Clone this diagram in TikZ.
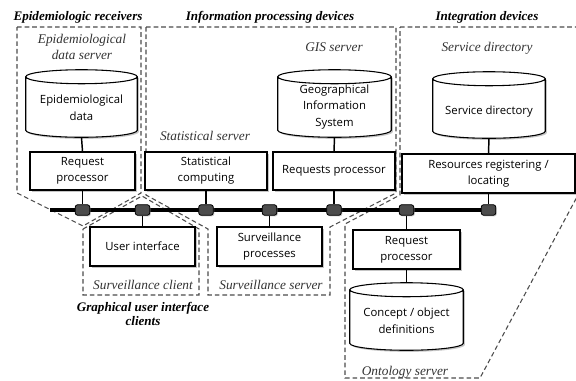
\documentclass[tikz,border=0pt]{standalone}
\usepackage{fontspec}
\setmainfont{Liberation Serif}
\newfontfamily\boxfont{Open Sans}
\usetikzlibrary{shadows,calc,backgrounds}
\tikzset{
  px/.style={x=0.75pt,y=0.75pt},
  grp/.style={draw=black!70,dashed,dash pattern=on 3.5pt off 2.2pt,line width=0.8pt},
  boxn/.style={draw=black,line width=0.8pt,fill=white,inner sep=1pt,align=center,
     font=\boxfont\fontsize{8.5}{12}\selectfont,
     drop shadow={opacity=0.45,shadow xshift=1.2pt,shadow yshift=-1.2pt}},
  dbtext/.style={inner sep=0pt,align=center,font=\boxfont\fontsize{8.5}{12.5}\selectfont},
  cylline/.style={draw=black,line width=0.8pt,fill=white,
     drop shadow={opacity=0.45,shadow xshift=1.2pt,shadow yshift=-1.2pt}},
  conn/.style={draw=black,fill=black!70,rounded corners=2pt,minimum width=11pt,
     minimum height=8pt,inner sep=0pt,line width=0.6pt,
     drop shadow={opacity=0.4,shadow xshift=0.8pt,shadow yshift=-0.8pt}},
  bus/.style={line width=2.4pt,black},
  link/.style={line width=1.1pt,black},
  ttl/.style={font=\fontsize{9.8}{11}\selectfont\bfseries\itshape,inner sep=0pt,align=center},
  lbl/.style={font=\fontsize{10}{11.5}\selectfont\itshape,text=black!80,inner sep=0pt,align=center},
}
\newcommand\dbshape[1]{%
 \draw[cylline] let \p1=(#1.north west), \p2=(#1.south east), \n1={(\x2-\x1)/2} in
   (\x1,\y1-5.25pt) -- (\x1,\y2+5.25pt)
   arc[start angle=180,end angle=360,x radius=\n1,y radius=5.25pt]
   -- (\x2,\y1-5.25pt)
   arc[start angle=0,end angle=180,x radius=\n1,y radius=5.25pt] -- cycle
   (\x1,\y1-5.25pt) arc[start angle=180,end angle=360,x radius=\n1,y radius=5.25pt];
}
\begin{document}
\begin{tikzpicture}[px]
\useasboundingbox[fill=white] (0,0) rectangle (576,-380);

% group outlines
\draw[grp] (17,-27) -- (141,-27) -- (141,-193) -- (83,-226) -- (17,-193) -- cycle;
\draw[grp] (83,-229) -- (142,-196) -- (199,-229) -- (199,-295) -- (83,-295) -- cycle;
\draw[grp] (146,-27) -- (396,-27) -- (396,-193) -- (330,-227) -- (330,-295) -- (208,-295) -- (208,-229) -- (146,-195) -- cycle;
\draw[grp] (400,-27) -- (578,-27) -- (578,-195) -- (480,-378) -- (345,-378) -- (345,-224) -- (400,-195) -- cycle;

% titles and labels
\node[ttl] (t1) at (78,-17) {Epidemiologic receivers};
\node[ttl] (t2) at (270,-17) {Information processing devices};
\node[ttl] (t3) at (487,-17) {Integration devices};
\node[ttl] (t4) at (143,-314) {Graphical user interface\\clients};
\node[lbl] (l1) at (82,-47) {Epidemiological\\data server};
\node[lbl] (l2) at (334,-47) {GIS server};
\node[lbl] (l3) at (205,-136) {Statistical server};
\node[lbl] (l4) at (487,-48) {Service directory};
\node[lbl] (l5) at (143,-285) {Surveillance client};
\node[lbl] (l6) at (271,-285) {Surveillance server};
\node[lbl] (l7) at (405,-372) {Ontology server};

% databases
\node[dbtext,minimum width=83.25pt,minimum height=50.25pt] (epidb) at (81.5,-103.5) {};
\node[dbtext,minimum width=84.75pt,minimum height=50.25pt] (gisdb) at (334.5,-103.5) {};
\node[dbtext,minimum width=84pt,minimum height=49.5pt] (servdb) at (489,-105) {};
\node[dbtext,minimum width=84.75pt,minimum height=50.25pt] (concdb) at (406.5,-316.5) {};
\dbshape{epidb}\dbshape{gisdb}\dbshape{servdb}\dbshape{concdb}
\node[dbtext] (epidbt) at (81.5,-108) {Epidemiological\\data};
\node[dbtext] (gisdbt) at (334.5,-107) {Geographical\\Information\\System};
\node[dbtext] (servdbt) at (489,-112) {Service directory};
\node[dbtext] (concdbt) at (406.5,-321) {Concept / object\\definitions};

% boxes
\node[boxn,minimum width=78.75pt,minimum height=28.5pt] (epireq) at (82.5,-171) {Request\\processor};
\node[boxn,minimum width=91.5pt,minimum height=28.5pt] (statc) at (206,-171) {Statistical\\computing};
\node[boxn,minimum width=91.5pt,minimum height=28.5pt] (gisreq) at (334,-171) {Requests processor};
\node[boxn,minimum width=129.75pt,minimum height=29.25pt] (resreg) at (488.5,-173.5) {Resources registering /\\locating};
\node[boxn,minimum width=78.75pt,minimum height=29.25pt] (ui) at (142.5,-246.5) {User interface};
\node[boxn,minimum width=78.75pt,minimum height=29.25pt] (surv) at (269.5,-246.5) {Surveillance\\processes};
\node[boxn,minimum width=80.25pt,minimum height=29.25pt] (ontreq) at (406.5,-249.5) {Request\\processor};

% db to box links
\draw[link] (epidb.south) -- (epireq.north);
\draw[link] (gisdb.south) -- (gisreq.north);
\draw[link] (servdb.south) -- (resreg.north);
\draw[link] (ontreq.south) -- (concdb.north);

% bus
\coordinate (busL) at (50,-210);
\coordinate (busR) at (488,-210);
\draw[bus] (busL) -- (busR);
\node[conn] (c1) at (82.5,-210) {};
\node[conn] (c2) at (142.5,-210) {};
\node[conn] (c3) at (206,-210) {};
\node[conn] (c4) at (269.5,-210) {};
\node[conn] (c5) at (334,-210) {};
\node[conn] (c6) at (406.5,-210) {};
\node[conn] (c7) at (488.5,-210) {};
\draw[link] (epireq) -- (c1);
\draw[link] (c2) -- (ui);
\draw[link] (statc) -- (c3);
\draw[link] (c4) -- (surv);
\draw[link] (gisreq) -- (c5);
\draw[link] (c6) -- (ontreq);
\draw[link] (resreg) -- (c7);
\end{tikzpicture}
\end{document}
